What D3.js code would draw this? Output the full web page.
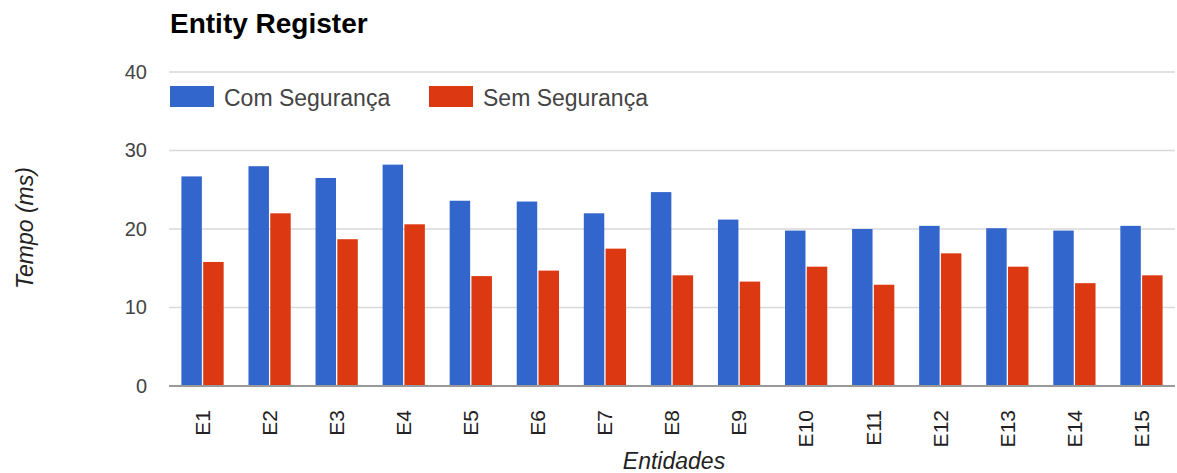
<!DOCTYPE html>
<html>
<head>
<meta charset="utf-8">
<script src="https://cdn.jsdelivr.net/npm/d3@7"></script>
<style>
  body { margin: 0; background: #fff; }
  text { font-family: Arial, "Liberation Sans", sans-serif; }
</style>
</head>
<body>
<svg id="mainsvg" width="1177" height="473"></svg>
<script>
// data
const categories = ["E1", "E2", "E3", "E4", "E5", "E6", "E7", "E8", "E9", "E10", "E11", "E12", "E13", "E14", "E15"];
const seriesNames = ["Com Segurança", "Sem Segurança"];
const comSeguranca = [26.7, 28.0, 26.5, 28.2, 23.6, 23.5, 22.0, 24.7, 21.2, 19.8, 20.0, 20.4, 20.1, 19.8, 20.4];
const semSeguranca = [15.8, 22.0, 18.7, 20.6, 14.0, 14.7, 17.5, 14.1, 13.3, 15.2, 12.9, 16.9, 15.2, 13.1, 14.1];
const yTicks = [0, 10, 20, 30, 40];

const colorSet = ["#3366cc", "#dc3912"];

const svg = d3.select('#mainsvg');
const myWidth = +svg.attr('width');
const myHeight = +svg.attr('height');

const margin = { top: 72, right: 2, bottom: 87, left: 169 };
const innerWidth = myWidth - margin.left - margin.right;
const innerHeight = myHeight - margin.top - margin.bottom;

const g = svg.append('g').attr('transform', `translate(${margin.left},${margin.top})`);

// scales
const x0 = d3.scaleBand().domain(categories).range([0, innerWidth])
  .paddingInner(0.37).paddingOuter(0.185);
const x1 = d3.scaleBand().domain(seriesNames).range([0, x0.bandwidth()]).paddingInner(0.06);
const y = d3.scaleLinear().domain([0, 40]).range([innerHeight, 0]);
const color = d3.scaleOrdinal().domain(seriesNames).range(colorSet);

// gridlines
g.append('g')
  .selectAll('line')
  .data(yTicks.filter(d => d > 0))
  .join('line')
  .attr('x1', 0)
  .attr('x2', innerWidth)
  .attr('y1', d => y(d))
  .attr('y2', d => y(d))
  .attr('stroke', '#d9d9d9')
  .attr('stroke-width', 1.5);

// y axis labels
const yAxis = g.append('g')
  .call(d3.axisLeft(y).tickValues(yTicks).tickSize(0).tickPadding(22));
yAxis.select('.domain').remove();
yAxis.selectAll('text')
  .attr('font-size', 20)
  .attr('fill', '#444');

// bars
const rows = categories.map((c, i) => ({ cat: c, values: [comSeguranca[i], semSeguranca[i]] }));

g.append('g')
  .selectAll('g')
  .data(rows)
  .join('g')
  .attr('transform', d => `translate(${x0(d.cat)},0)`)
  .selectAll('rect')
  .data(d => seriesNames.map((s, j) => ({ key: s, value: d.values[j] })))
  .join('rect')
  .attr('x', d => x1(d.key))
  .attr('y', d => y(d.value))
  .attr('width', x1.bandwidth())
  .attr('height', d => y(0) - y(d.value))
  .attr('fill', d => color(d.key));

// baseline
g.append('line')
  .attr('x1', 0)
  .attr('x2', innerWidth)
  .attr('y1', y(0))
  .attr('y2', y(0))
  .attr('stroke', '#999')
  .attr('stroke-width', 2);

// x axis labels
const xAxis = g.append('g')
  .attr('transform', `translate(0,${innerHeight})`)
  .call(d3.axisBottom(x0).tickSize(0));
xAxis.select('.domain').remove();
xAxis.selectAll('text')
  .attr('transform', 'rotate(-90)')
  .attr('text-anchor', 'end')
  .attr('x', -24)
  .attr('y', 0)
  .attr('dy', '0.35em')
  .attr('font-size', 21)
  .attr('fill', '#222');

// title
svg.append('text')
  .attr('x', 170)
  .attr('y', 33)
  .attr('font-size', 28)
  .attr('font-weight', 'bold')
  .attr('fill', '#000')
  .text('Entity Register');

// legend
const legend = svg.append('g')
  .selectAll('g')
  .data(seriesNames)
  .join('g')
  .attr('transform', (d, i) => `translate(${170 + i * 259},86)`);

legend.append('rect')
  .attr('width', 44)
  .attr('height', 21)
  .attr('fill', d => color(d));

legend.append('text')
  .attr('x', 54)
  .attr('y', 20)
  .attr('font-size', 23)
  .attr('fill', '#444')
  .text(d => d);

// axis titles
svg.append('text')
  .attr('transform', `translate(33,228) rotate(-90)`)
  .attr('text-anchor', 'middle')
  .attr('font-size', 23)
  .attr('font-style', 'italic')
  .attr('fill', '#222')
  .text('Tempo (ms)');

svg.append('text')
  .attr('x', 674)
  .attr('y', 469)
  .attr('text-anchor', 'middle')
  .attr('font-size', 23)
  .attr('font-style', 'italic')
  .attr('fill', '#222')
  .text('Entidades');
</script>
</body>
</html>
